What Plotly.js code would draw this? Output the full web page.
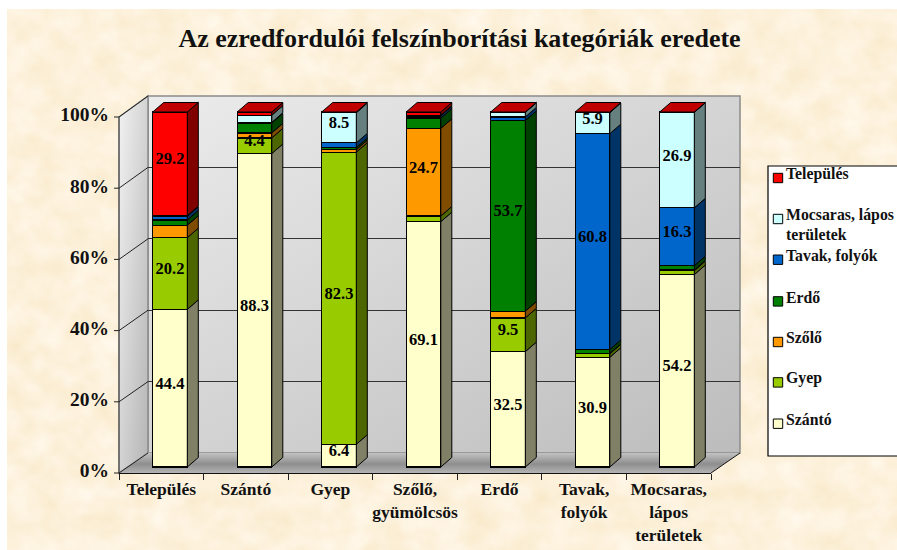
<!DOCTYPE html>
<html>
<head>
<meta charset="utf-8">
<script src="https://cdn.plot.ly/plotly-3.0.1.min.js"></script>
<style>
html,body{margin:0;padding:0;background:#fff;width:897px;height:550px;overflow:hidden}
#bg{position:absolute;left:7px;top:9px;width:890px;height:541px;background-color:#fcf0d8}
#plot{position:absolute;left:0;top:0;width:897px;height:550px}
</style>
</head>
<body>
<div id="bg"></div>
<div id="plot"></div>
<script>
// ---- data ----
const categories = ['Település','Szántó','Gyep','Szőlő,<br>gyümölcsös','Erdő','Tavak,<br>folyók','Mocsaras,<br>lápos<br>területek'];
const seriesNames = ['Szántó','Gyep','Szőlő','Erdő','Tavak, folyók','Mocsaras, lápos<br>területek','Település'];
const szanto    = [44.4, 88.3,  6.4, 69.1, 32.5, 30.9, 54.2];
const gyep      = [20.2,  4.4, 82.3,  1.6,  9.5,  1.0,  1.1];
const szolo     = [ 3.5,  1.4,  0.7, 24.7,  1.9,  0.1,  0.2];
const erdo      = [ 1.5,  2.8,  0.6,  2.9, 53.7,  1.1,  1.2];
const tavak     = [ 1.0,  0.2,  1.3,  0.6,  1.0, 60.8, 16.3];
const mocsaras  = [ 0.2,  2.0,  8.5,  0.2,  1.3,  5.9, 26.9];
const telepules = [29.2,  0.9,  0.2,  0.9,  0.1,  0.2,  0.1];
const seriesValues = [szanto, gyep, szolo, erdo, tavak, mocsaras, telepules];
const yTicks = [0,20,40,60,80,100];
// ---- styles ----
const frontColors = ['#FFFFCC','#99CC00','#FF9900','#008000','#0066CC','#CCFFFF','#FF0000'];
const sideColors  = ['#808066','#4D6600','#804C00','#004000','#003366','#668080','#800000'];
const topColor = '#C00000';
const serif = '"Liberation Serif", serif';
const W = 897, H = 550;
// ---- parchment ----
const parchment = `<svg xmlns="http://www.w3.org/2000/svg" width="890" height="541"><filter id="p" x="0" y="0" width="100%" height="100%" color-interpolation-filters="sRGB"><feTurbulence type="fractalNoise" baseFrequency="0.035 0.04" numOctaves="3" seed="7"/><feColorMatrix type="matrix" values="0.03 0 0 0 0.975  0.07 0 0 0 0.91  0.16 0 0 0 0.78  0 0 0 0 1"/></filter><rect width="890" height="541" filter="url(#p)"/></svg>`;
document.getElementById('bg').style.backgroundImage = 'url("data:image/svg+xml,' + encodeURIComponent(parchment) + '")';
// ---- 3-D box walls, drawn as a picture under the plot ----
const walls = `<svg xmlns="http://www.w3.org/2000/svg" width="897" height="550" viewBox="0 0 897 550"><defs>
<linearGradient id="b" x1="0" y1="0" x2="1" y2="1"><stop offset="0" stop-color="#ececec"/><stop offset="1" stop-color="#bcbcbc"/></linearGradient>
<linearGradient id="l" x1="0" y1="0" x2="1" y2="1"><stop offset="0" stop-color="#f2f2f2"/><stop offset="1" stop-color="#b4b4b4"/></linearGradient>
<linearGradient id="f" x1="0" y1="0" x2="0" y2="1"><stop offset="0" stop-color="#c2c2c2"/><stop offset=".55" stop-color="#8e8e8e"/><stop offset="1" stop-color="#b4b4b4"/></linearGradient>
</defs>
<polygon points="148,96 740,96 740,453 148,453" fill="url(#b)" stroke="#8a8a8a" stroke-width="1.5"/>
<polygon points="119,117 148,96 148,453 119,473" fill="url(#l)" stroke="#8a8a8a" stroke-width="1.5"/>
<polygon points="119,473 148,453 740,453 711,473" fill="url(#f)"/>
<line x1="119" y1="117" x2="119" y2="473" stroke="#555" stroke-width="1.2"/>
<line x1="711" y1="473" x2="740" y2="453" stroke="#111" stroke-width="1"/>
</svg>`;
// ---- px helpers for axis placement ----
const domX = (a,b)=>[a/W,b/W];
const domY = (top,bot)=>[1-bot/H,1-top/H];
// bar axes: category i centre at 170 + 84.5 i ; value v at 467 - 3.55 v
const stepX = 84.5, x0px = 170, unitY = 3.55, y0px = 467;
const barW = 34.6/stepX, halfW = barW/2;
const depthX = 11/stepX, depthY = 9.5/unitY;
const labelLift = 3.5/unitY;
const toBarX = px=>(px-x0px)/stepX, toBarY = py=>(y0px-py)/unitY;

const traces = [];
// carrier of the back wall gridlines
traces.push({type:'scatter',mode:'none',x:[0,1],y:[0,100],xaxis:'x',yaxis:'y',hoverinfo:'skip',showlegend:false});
// tick marks and gridline diagonals on the left wall
const diagX = [], diagY = [];
yTicks.forEach(t=>{
  const front = 473-3.56*t, back = 453-3.57*t;
  diagX.push(toBarX(114), toBarX(119), toBarX(148), null);
  diagY.push(toBarY(front), toBarY(front), toBarY(back), null);
});
traces.push({type:'scatter',mode:'lines',x:diagX,y:diagY,xaxis:'x2',yaxis:'y2',
  line:{color:'#222',width:1},hoverinfo:'skip',showlegend:false});
// stacked front faces
seriesValues.forEach((vals,s)=>{
  traces.push({type:'bar',name:seriesNames[s].replace('<br>',' '),x:vals.map((_,i)=>i),y:vals,xaxis:'x2',yaxis:'y2',
    width:barW,marker:{color:frontColors[s],line:{color:'#000',width:1.2}},
    hoverinfo:'x+y+name',showlegend:false});
});
// side faces and value labels
const cum = categories.map(()=>0);
const labX=[],labY=[],labT=[];
seriesValues.forEach((vals,s)=>{
  const px=[],py=[];
  vals.forEach((v,i)=>{
    const xr=i+halfW, y0=cum[i], y1=cum[i]+v;
    px.push(xr,xr+depthX,xr+depthX,xr,xr,null);
    py.push(y0,y0+depthY,y1+depthY,y1,y0,null);
    if(v>=4){ labX.push(i); labY.push(y0+v/2+labelLift); labT.push(v.toFixed(1)); }
    cum[i]=y1;
  });
  traces.push({type:'scatter',mode:'lines',x:px,y:py,xaxis:'x2',yaxis:'y2',fill:'toself',fillcolor:sideColors[s],
    line:{color:'#000',width:1},hoverinfo:'skip',showlegend:false});
});
// top faces
{
  const px=[],py=[];
  categories.forEach((_,i)=>{
    const l=i-halfW,r=i+halfW,y=cum[i];
    px.push(l,r,r+depthX,l+depthX,l,null);
    py.push(y,y,y+depthY,y+depthY,y,null);
  });
  traces.push({type:'scatter',mode:'lines',x:px,y:py,xaxis:'x2',yaxis:'y2',fill:'toself',fillcolor:topColor,
    line:{color:'#000',width:1},hoverinfo:'skip',showlegend:false});
}
// value labels
traces.push({type:'scatter',mode:'text',x:labX,y:labY,text:labT,xaxis:'x2',yaxis:'y2',textposition:'middle center',
  textfont:{family:serif,size:16.5,color:'#000',weight:'bold'},hoverinfo:'skip',showlegend:false});
// carrier of the visible category and percent axes
traces.push({type:'scatter',mode:'none',x:categories,y:categories.map(()=>0),xaxis:'x3',yaxis:'y3',hoverinfo:'skip',showlegend:false});

// ---- legend (box, swatches, text) ----
const legendOrder = [6,5,4,3,2,1,0];
const swatchTop = [173.3,214.3,255,296.7,337.3,377.7,419];
const shapes = [{type:'rect',xref:'paper',yref:'paper',x0:768/W,x1:920/W,y0:1-456/H,y1:1-166/H,
  fillcolor:'#fff',line:{color:'#000',width:1.2},layer:'above'}];
const annotations = [];
legendOrder.forEach((s,k)=>{
  const t=swatchTop[k];
  shapes.push({type:'rect',xref:'paper',yref:'paper',x0:773.3/W,x1:782.7/W,y0:1-(t+9.4)/H,y1:1-t/H,
    fillcolor:frontColors[s],line:{color:'#000',width:1},layer:'above'});
  seriesNames[s].split('<br>').forEach((line,n)=>{
    annotations.push({xref:'paper',yref:'paper',x:785/W,y:1-(t+0.5+n*20)/H,xanchor:'left',yanchor:'middle',align:'left',
      showarrow:false,text:line,borderpad:0,font:{family:serif,size:15.8,color:'#111',weight:'bold'}});
  });
});

const layout = {
  width:W,height:H,margin:{l:0,r:0,t:0,b:0,pad:0},autosize:false,
  paper_bgcolor:'rgba(0,0,0,0)',plot_bgcolor:'rgba(0,0,0,0)',
  barmode:'stack',showlegend:false,hovermode:'closest',
  title:{text:'Az ezredfordulói felszínborítási kategóriák eredete',x:459.5/W,y:1-38/H,xanchor:'center',yanchor:'middle',
    font:{family:serif,size:26,color:'#111',weight:'bold'}},
  // back wall with gridlines
  xaxis:{domain:domX(148,740),range:[0,1],anchor:'y',showgrid:false,zeroline:false,showticklabels:false,ticks:'',showline:false},
  yaxis:{domain:domY(96,453),range:[0,100],anchor:'x',tickvals:yTicks,showgrid:true,gridcolor:'#333',gridwidth:1,
    zeroline:false,showticklabels:false,ticks:'',showline:false},
  // bars
  xaxis2:{domain:[0,1],range:[-x0px/stepX,(W-x0px)/stepX],anchor:'y2',visible:false},
  yaxis2:{domain:[0,1],range:[(y0px-H)/unitY,y0px/unitY],anchor:'x2',visible:false},
  // visible axes
  xaxis3:{domain:domX(119,711),type:'category',categoryorder:'array',categoryarray:categories,range:[-0.5,6.5],anchor:'free',position:1-473/H,
    tickson:'boundaries',ticks:'outside',ticklen:6,tickcolor:'#222',tickwidth:1,tickangle:0,showgrid:false,zeroline:false,
    showline:true,linecolor:'#111',linewidth:1.2,tickfont:{family:serif,size:17.5,color:'#111',weight:'bold'}},
  yaxis3:{domain:domY(114.5,470.5),range:[0,100],anchor:'x3',tickvals:yTicks,ticktext:yTicks.map(t=>t+'%'),
    ticks:'outside',ticklen:5,tickcolor:'rgba(0,0,0,0)',tickwidth:1,showgrid:false,zeroline:false,
    showline:false,tickfont:{family:serif,size:19.5,color:'#111',weight:'bold'}},
  images:[{source:'data:image/svg+xml,'+encodeURIComponent(walls),xref:'paper',yref:'paper',x:0,y:1,sizex:1,sizey:1,
    xanchor:'left',yanchor:'top',sizing:'stretch',layer:'below'}],
  shapes:shapes,annotations:annotations
};
Plotly.newPlot('plot',traces,layout,{displayModeBar:false,responsive:false});
</script>
</body>
</html>
